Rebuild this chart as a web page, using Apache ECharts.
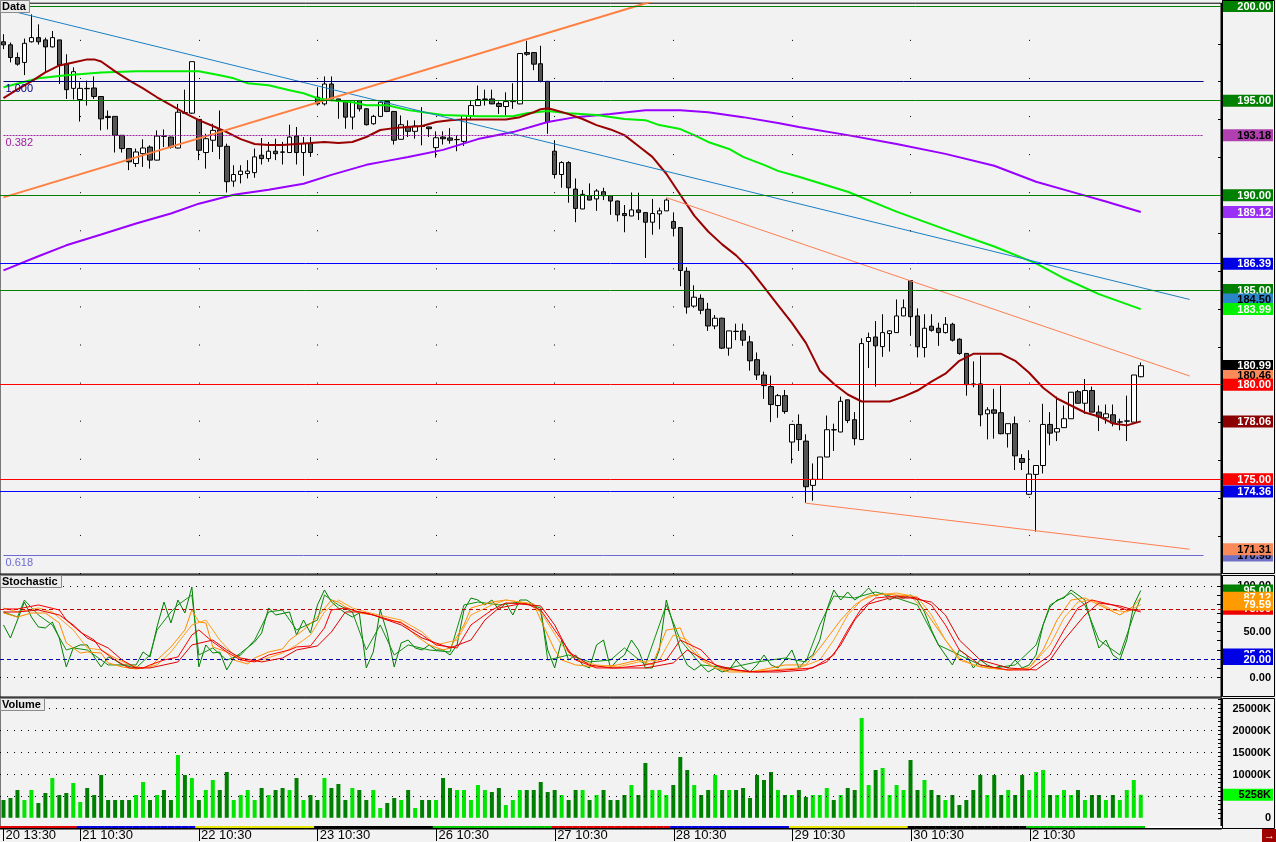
<!DOCTYPE html>
<html><head><meta charset="utf-8">
<script src="https://cdn.jsdelivr.net/npm/echarts@6/dist/echarts.min.js"></script>
<style>html,body{margin:0;padding:0;background:#f2f2f2;}#c{width:1276px;height:842px;}</style>
</head><body><div id="c"></div>
<script>
// ---------- DATA ----------
const dayLabels = ['20 13:30','21 10:30','22 10:30','23 10:30','26 10:30','27 10:30','28 10:30','29 10:30','30 10:30','2 10:30'];
const barsPerDay = [11,17,17,17,17,17,17,17,17,17];
const emptySlots = 11;

const openVals = [198.11,197.95,197.28,197.02,198.11,198.33,198.21,197.84,198.21,196.93,195.65,195.06,195.65,195.67,195.22,194.17,194.17,193.17,192.47,191.68,192.20,192.55,191.86,193.13,193.08,192.50,194.36,194.34,194.01,192.26,192.91,193.46,192.59,190.75,191.10,191.15,191.20,192.12,191.94,192.33,192.29,192.26,193.13,192.26,192.73,195.18,194.83,195.88,195.09,194.92,194.13,195.01,194.57,193.78,194.17,194.95,194.43,192.96,193.64,193.38,193.66,193.61,192.52,193.08,193.03,192.94,192.85,194.18,194.74,195.06,195.09,194.85,194.69,194.95,194.83,197.54,197.54,196.95,196.02,192.33,191.10,191.73,190.33,189.28,189.98,189.81,190.19,189.98,189.70,189.04,188.91,189.23,189.09,188.58,189.02,189.18,188.62,188.30,185.99,184.15,184.56,183.98,183.10,183.51,181.93,182.82,182.84,182.26,181.32,180.51,179.90,178.90,179.42,176.97,177.90,177.02,174.68,175.00,176.18,177.62,177.50,179.20,178.15,177.10,182.28,182.52,182.01,182.70,182.75,183.63,185.50,183.63,181.96,183.09,182.98,182.75,183.19,182.40,181.65,180.04,180.04,178.46,178.67,178.52,177.41,177.94,176.10,174.21,175.26,175.73,177.90,177.50,177.73,178.20,179.63,179.02,179.69,178.55,178.25,178.41,178.02,178.07,178.02,180.42];
const highVals = [198.51,198.07,197.54,198.28,199.56,199.03,198.33,198.68,198.21,197.45,196.76,195.97,196.06,196.28,195.23,194.48,194.18,193.18,192.48,192.47,192.96,192.64,193.43,193.48,193.10,194.83,195.58,197.06,194.02,193.25,193.78,194.48,192.73,191.59,191.59,191.86,192.47,193.03,192.82,192.99,192.82,193.73,193.61,193.08,193.08,195.71,196.28,196.28,195.10,194.97,195.01,195.01,194.60,194.25,195.01,195.01,194.43,194.22,193.96,193.96,194.66,193.62,193.38,193.38,193.55,193.17,194.22,195.04,195.80,195.58,195.58,194.95,195.44,195.92,197.51,198.16,197.56,197.90,196.04,192.91,191.80,191.80,190.89,190.28,190.63,190.33,190.40,189.99,189.72,189.49,190.15,190.14,189.10,189.81,189.35,189.84,189.10,188.30,186.20,185.25,184.77,184.32,183.68,183.54,182.84,183.22,183.22,182.58,181.70,180.69,180.48,179.51,179.72,177.90,178.43,177.38,175.84,176.18,178.37,177.94,179.37,179.21,178.55,182.45,182.75,183.36,183.72,182.87,184.50,184.50,185.50,184.03,183.72,183.72,183.27,183.57,183.27,182.45,181.66,181.23,181.53,178.81,179.78,179.95,177.94,178.32,176.33,176.54,175.73,178.99,178.55,179.37,178.90,179.60,179.72,180.30,179.90,178.90,178.95,178.95,178.20,179.42,180.51,181.17];
const lowVals = [197.72,197.02,196.85,196.35,198.07,197.96,196.49,197.81,195.88,195.09,195.06,193.90,194.74,195.09,193.43,193.48,192.26,192.26,191.33,191.50,191.50,191.41,191.85,192.55,192.47,192.47,194.30,194.30,191.86,191.41,192.29,191.91,190.15,190.45,190.63,190.89,190.93,191.63,191.77,191.86,191.63,192.26,191.63,191.03,192.03,194.74,194.74,194.97,194.04,193.52,193.48,194.43,193.69,193.73,194.13,194.39,192.68,192.95,193.08,192.99,192.64,193.08,191.99,192.68,192.73,192.33,192.61,194.04,194.73,194.74,194.81,194.30,194.22,194.57,194.81,197.37,196.61,195.97,193.25,190.89,190.40,189.61,188.58,189.27,189.74,189.18,189.75,188.97,188.62,188.05,188.90,188.70,186.69,187.92,188.21,189.17,187.83,185.20,183.75,184.06,183.72,182.84,182.93,181.88,181.53,182.35,182.05,180.74,180.25,179.25,178.02,178.25,178.46,175.84,176.50,173.77,173.87,174.99,176.17,176.50,177.49,177.97,176.80,177.09,180.88,179.90,181.47,181.75,182.74,183.62,182.58,181.44,181.44,182.80,182.05,182.70,182.28,181.58,179.42,179.86,177.80,177.11,177.15,177.38,176.68,175.49,175.49,174.17,172.24,175.31,176.80,177.02,177.72,178.19,179.01,178.46,178.54,177.55,177.94,177.80,177.59,177.02,178.01,180.39];
const closeVals = [197.95,197.28,196.93,198.03,198.33,198.11,197.84,198.33,196.88,195.58,196.53,195.65,195.63,195.22,194.04,194.11,193.17,192.47,191.77,192.29,192.50,191.86,193.13,193.12,192.55,194.39,194.34,197.06,192.38,192.99,193.43,192.59,190.72,191.10,191.28,191.28,192.03,191.94,192.33,192.20,192.28,193.08,192.26,192.73,192.26,194.83,195.88,195.09,194.97,194.13,195.01,194.57,193.73,194.17,194.92,194.43,192.91,193.73,193.38,193.66,193.64,193.52,193.04,192.99,192.91,192.95,194.22,194.74,195.06,195.09,194.83,194.69,194.95,195.01,197.49,197.45,196.93,196.02,193.87,191.10,191.73,190.40,189.31,190.05,189.75,190.23,189.98,189.70,188.97,188.93,189.23,189.10,188.58,189.04,189.18,189.75,188.26,186.03,184.10,184.62,183.93,183.10,183.51,181.93,182.84,182.81,182.35,181.26,180.51,179.95,178.95,179.42,178.58,177.90,177.10,174.61,175.00,176.18,177.62,177.61,179.12,178.11,177.15,182.17,182.49,182.05,182.75,182.84,183.63,184.06,183.59,182.00,182.98,182.87,182.75,183.19,182.35,181.65,180.00,180.00,178.41,178.67,178.49,177.41,177.94,176.24,175.89,175.28,175.73,177.90,177.44,177.68,178.20,179.60,179.02,179.69,178.55,178.29,178.46,177.97,178.04,178.09,180.51,181.00];

// volume in thousands (K)
const volumeK = [4064,4520,6347,4064,6347,3379,5662,9086,5205,5662,7945,3607,6803,5205,9771,4064,4064,4064,4064,5205,8173,4064,5205,6347,4064,14337,9771,9086,4064,6347,8630,6347,10456,4064,5205,6347,4064,6803,5205,6347,6803,6347,9086,4064,5205,4064,9086,6803,7716,4064,6803,6347,4064,6347,2237,3379,4520,4064,6347,2237,4064,4064,4064,9086,6803,6347,6347,4064,7488,6347,5890,6803,2922,4064,6347,6347,6347,8173,5890,6347,5205,4064,6347,6347,4064,5205,6347,4064,4064,5205,7488,5205,12510,6347,6347,5205,7488,13880,10913,7488,5205,6347,9771,6347,6347,6347,6803,4520,9771,8630,10456,6347,5205,5205,6347,4749,5205,5205,6803,4064,5205,6803,6347,22784,7488,10913,11369,5205,7488,6347,13196,6347,8630,6347,5205,4064,5205,2922,4064,6347,9771,5205,9771,5205,6347,5205,9771,6347,10456,10913,5205,5205,6347,5205,6347,4064,5205,5205,4064,5205,4064,6347,8630,5258];

// moving averages: [barIndex, value]
const maDarkRed = [[0,195.13],[2,195.60],[4,196.02],[6,196.49],[8,196.86],[10,197.02],[12,197.18],[13,197.18],[14,197.07],[16,196.55],[18,196.07],[20,195.65],[22,195.18],[24,194.76],[26,194.34],[28,193.97],[30,193.66],[32,193.34],[34,192.97],[36,192.71],[38,192.66],[40,192.66],[42,192.71],[44,192.76],[46,192.82],[48,192.76],[50,192.82],[52,193.08],[54,193.45],[56,193.55],[58,193.61],[60,193.66],[62,193.87],[64,193.97],[66,194.00],[68,194.01],[70,194.01],[72,194.01],[74,194.13],[76,194.39],[77,194.55],[78,194.60],[79,194.51],[81,194.29],[83,194.03],[85,193.71],[87,193.48],[89,193.18],[91,192.61],[93,192.03],[95,191.14],[97,190.03],[99,188.93],[101,188.09],[103,187.41],[105,186.83],[107,186.09],[109,185.15],[111,184.20],[113,183.26],[115,182.21],[117,180.74],[119,180.05],[121,179.48],[123,179.11],[125,179.11],[127,179.11],[129,179.37],[131,179.69],[133,180.16],[135,180.58],[137,181.26],[139,181.63],[141,181.63],[143,181.63],[145,181.26],[147,180.63],[149,179.84],[151,179.27],[153,178.90],[155,178.53],[157,178.32],[159,177.95],[161,177.85],[163,178.06]];
const maGreen = [[0,195.71],[5,196.18],[9,196.34],[14,196.49],[19,196.55],[24,196.55],[28,196.55],[31,196.34],[33,196.18],[35,195.92],[38,195.81],[41,195.55],[43,195.39],[45,195.13],[47,195.02],[50,194.92],[52,194.76],[55,194.76],[58,194.50],[63,194.24],[68,194.18],[73,194.18],[75,194.34],[78,194.45],[81,194.34],[85,194.24],[89,194.03],[92,193.97],[94,193.71],[97,193.50],[99,193.18],[101,192.82],[104,192.45],[106,192.03],[109,191.61],[111,191.29],[114,190.98],[121,190.19],[128,189.14],[135,188.20],[142,187.30],[148,186.41],[152,185.62],[157,184.78],[163,183.99]];
const maPurple = [[0,186.04],[5,186.78],[9,187.36],[14,187.93],[19,188.51],[24,189.04],[28,189.56],[33,190.03],[38,190.30],[43,190.61],[47,191.08],[52,191.61],[55,191.82],[58,192.03],[63,192.40],[68,192.97],[73,193.34],[78,193.87],[82,194.13],[87,194.29],[92,194.50],[97,194.50],[101,194.39],[106,194.13],[111,193.82],[114,193.61],[121,193.18],[128,192.71],[135,192.19],[142,191.56],[148,190.72],[154,190.09],[158,189.67],[163,189.12]];

// trend lines: [barIndex, value]
const trendBlue = [[2,199.66],[170,184.50]];
const trendOrangeChannel = [[0,189.89],[93,200.25]];
const trendOrangeUpper = [[95,189.88],[170,180.46]];
const trendOrangeLower = [[115,173.74],[170,171.31]];

// horizontal levels
const greenLevels = [200,195,190,185];
const redLevels = [180,175];
const blueLevels = [186.39,174.36];
const fibLevels = [196.02,193.18,170.98];
const fibTexts = ['1.000','0.382','0.618'];

// right-hand price tags
const mainTagValues = [200,195,193.18,190,189.12,186.39,185,184.50,183.99,180.99,180.46,180,178.06,175,174.36,170.98,171.31];
const mainTicks = [172,174,176,178,180,182,184,186,188,190,192,194,196,198,200];

// stochastic lines: [barIndex, value]
const stochGreen1 = [[0,57.3],[1,43.0],[3,82.4],[4,66.0],[5,55.1],[6,54.0],[7,60.5],[8,43.0],[9,11.3],[10,32.1],[11,35.4],[12,35.4],[13,22.2],[14,11.3],[15,22.2],[16,18.9],[17,13.5],[19,13.5],[20,27.7],[21,22.2],[22,55.1],[23,82.4],[24,59.5],[25,84.6],[26,70.4],[27,98.9],[28,11.3],[29,35.4],[30,26.6],[31,27.7],[32,8.0],[33,21.1],[34,26.6],[36,38.7],[37,48.5],[38,75.9],[39,68.2],[41,71.5],[42,46.3],[43,62.7],[44,48.5],[45,79.2],[46,95.6],[47,82.4],[48,75.9],[49,70.4],[50,66.0],[51,70.4],[52,10.2],[53,27.7],[54,73.7],[55,48.5],[56,11.3],[57,37.6],[58,40.8],[59,32.1],[60,29.9],[61,35.4],[62,29.9],[63,29.9],[64,24.4],[65,35.4],[66,73.7],[67,86.8],[68,84.6],[69,79.2],[70,84.6],[71,73.7],[72,81.4],[73,68.2],[74,84.6],[75,84.6],[76,79.2],[77,71.5],[78,29.9],[79,10.2],[80,40.8],[81,18.9],[82,24.4],[83,13.5],[84,10.2],[85,35.4],[86,40.8],[87,10.2],[88,18.9],[89,24.4],[90,40.8],[91,29.9],[92,10.2],[93,10.2],[94,29.9],[95,84.6],[96,57.3],[97,29.9],[98,13.5],[99,8.0],[100,13.5],[101,5.8],[102,10.2],[103,5.8],[104,8.0],[105,18.9],[106,10.2],[107,5.8],[108,13.5],[109,24.4],[110,13.5],[111,10.2],[112,18.9],[113,29.9],[114,10.2],[115,18.9],[116,24.4],[117,40.8],[118,73.7],[119,95.6],[120,84.6],[121,93.4],[122,84.6],[123,90.1],[124,97.8],[125,89.0],[126,92.3],[127,84.6],[128,89.0],[129,86.8],[130,90.1],[131,84.6],[132,71.5],[133,51.8],[134,35.4],[135,24.4],[136,13.5],[137,29.9],[138,24.4],[139,10.2],[140,18.9],[141,13.5],[142,10.2],[143,12.4],[144,10.2],[145,18.9],[146,10.2],[147,13.5],[148,24.4],[149,57.3],[150,77.0],[151,84.6],[152,86.8],[153,95.6],[154,90.1],[155,84.6],[156,57.3],[157,32.1],[158,40.8],[159,24.4],[160,18.9],[161,40.8],[162,79.2],[163,95.0]];
const stochGreen2 = [[0,71.5],[2,66.0],[3,84.6],[5,68.2],[7,57.3],[9,29.9],[10,32.1],[12,29.9],[15,13.5],[17,13.5],[19,10.2],[21,24.4],[22,51.8],[24,71.5],[25,79.2],[27,90.1],[28,24.4],[30,32.1],[32,18.9],[34,24.4],[36,40.8],[38,71.5],[40,73.7],[42,51.8],[45,62.7],[46,90.1],[48,79.2],[50,71.5],[52,29.9],[54,57.3],[56,24.4],[58,35.4],[61,29.9],[64,27.7],[66,79.2],[68,82.4],[71,79.2],[74,82.4],[77,75.9],[78,18.9],[81,24.4],[84,16.8],[87,18.9],[89,32.1],[92,13.5],[95,79.2],[97,40.8],[100,13.5],[104,10.2],[108,16.8],[112,21.1],[115,16.8],[117,57.3],[119,89.0],[122,86.8],[125,93.4],[128,86.8],[131,79.2],[134,35.4],[137,24.4],[140,13.5],[142,10.2],[145,13.5],[148,35.4],[150,79.2],[153,92.3],[155,79.2],[157,40.8],[160,24.4],[162,68.2],[163,86.8]];
const stochOrange1 = [[0,70.4],[2,66.0],[4,70.4],[6,70.4],[8,59.5],[9,37.6],[11,26.6],[12,27.7],[14,26.6],[15,15.7],[17,11.3],[19,9.1],[21,11.3],[22,18.9],[24,33.2],[26,51.8],[27,73.7],[28,60.5],[29,59.5],[30,33.2],[32,27.7],[33,18.9],[35,14.6],[36,21.1],[38,27.7],[40,31.0],[41,40.8],[43,51.8],[45,66.0],[47,84.6],[48,82.4],[49,77.0],[51,70.4],[53,68.2],[55,62.7],[57,60.5],[59,46.3],[61,35.4],[63,29.9],[64,32.1],[66,57.3],[67,75.9],[70,82.4],[72,84.6],[74,82.4],[76,80.3],[77,62.7],[79,29.9],[80,18.9],[82,13.5],[85,11.3],[88,13.5],[91,18.9],[93,13.5],[95,51.8],[97,54.0],[98,35.4],[100,18.9],[102,10.2],[104,5.8],[107,5.8],[110,10.2],[112,13.5],[115,13.5],[117,32.1],[120,62.7],[122,79.2],[124,89.0],[126,91.2],[128,90.1],[130,89.0],[132,73.7],[135,40.8],[137,21.1],[139,13.5],[141,10.2],[144,8.0],[147,10.2],[149,29.9],[151,62.7],[153,84.6],[155,86.8],[157,79.2],[160,68.2],[162,78.1],[163,87.12]];
const stochOrange2 = [[0,75.9],[2,71.5],[5,75.9],[7,71.5],[10,51.8],[12,32.1],[14,29.9],[16,21.1],[18,13.5],[20,10.2],[22,13.5],[24,27.7],[27,57.3],[29,62.7],[31,40.8],[33,24.4],[35,16.8],[37,18.9],[40,26.6],[42,35.4],[44,46.3],[46,71.5],[48,84.6],[50,75.9],[52,71.5],[55,66.0],[57,62.7],[60,49.6],[62,35.4],[65,40.8],[67,68.2],[70,79.2],[72,84.6],[75,81.4],[77,71.5],[80,35.4],[82,18.9],[85,13.5],[88,11.3],[91,16.8],[94,18.9],[96,46.3],[98,40.8],[100,21.1],[102,10.2],[106,5.8],[110,8.0],[114,10.2],[117,18.9],[119,40.8],[121,68.2],[123,84.6],[125,90.1],[128,92.3],[131,87.9],[133,68.2],[135,40.8],[137,18.9],[140,11.3],[144,8.0],[147,10.2],[150,35.4],[152,64.9],[154,82.4],[156,84.6],[159,73.7],[161,71.5],[163,79.59]];
const stochRed1 = [[0,74.8],[2,74.8],[5,79.2],[8,73.7],[9,62.7],[11,49.6],[13,40.8],[14,29.9],[16,18.9],[18,10.2],[20,10.2],[21,13.5],[23,18.9],[25,22.2],[27,46.3],[28,51.8],[30,38.7],[32,27.7],[34,18.9],[36,16.8],[38,24.4],[41,29.9],[42,33.2],[44,34.3],[46,54.0],[47,73.7],[49,75.9],[51,71.5],[52,70.4],[54,66.0],[57,59.5],[60,46.3],[62,35.4],[65,32.1],[67,57.3],[70,73.7],[72,81.4],[75,80.3],[77,73.7],[80,40.8],[82,18.9],[85,10.2],[88,10.2],[92,13.5],[95,18.9],[97,40.8],[100,29.9],[102,13.5],[105,8.0],[108,5.8],[112,8.0],[116,10.2],[119,24.4],[121,51.8],[123,75.9],[125,86.8],[128,89.0],[131,86.8],[133,79.2],[135,57.3],[137,29.9],[140,13.5],[144,8.0],[147,8.0],[150,24.4],[152,51.8],[154,75.9],[156,84.6],[159,79.2],[161,73.7],[163,73.7]];
const stochRed2 = [[0,71.5],[2,71.5],[5,73.7],[8,68.2],[10,57.3],[12,43.0],[15,32.1],[17,18.9],[19,10.2],[21,10.2],[23,13.5],[25,16.8],[27,35.4],[30,40.8],[32,29.9],[34,21.1],[37,16.8],[40,21.1],[42,29.9],[45,34.3],[47,49.6],[49,71.5],[51,71.5],[53,68.2],[55,62.7],[57,57.3],[60,43.0],[64,32.1],[67,40.8],[69,62.7],[71,75.9],[74,80.3],[77,78.1],[79,57.3],[81,27.7],[84,13.5],[87,10.2],[92,10.2],[96,15.7],[98,29.9],[100,21.1],[103,10.2],[107,5.8],[111,5.8],[115,8.0],[118,16.8],[120,35.4],[122,62.7],[124,80.3],[127,86.8],[130,86.8],[133,82.4],[135,68.2],[137,40.8],[140,18.9],[144,10.2],[148,8.0],[150,18.9],[152,40.8],[155,68.2],[157,81.4],[160,78.1],[163,71.5]];
const stochLevels = {upper:75, lower:20, top:100, bottom:0};
const stochTagValues = [100,95,87.12,75,79.59,50,25,20,0];
const stochTicks = [0,10,20,30,40,50,60,70,80,90,100];

const volumeTagValues = [0,10000,15000,20000,25000,5258];
const volumeGridLevels = [5000,10000,15000,20000,25000];
const volumeTicks = [0,1000,2000,3000,4000,5000,6000,7000,8000,9000,10000,11000,12000,13000,14000,15000,16000,17000,18000,19000,20000,21000,22000,23000,24000,25000,26000,27000];

// ---------- BUILD ----------
const FONT = 'Liberation Sans';
const categories = [];
const dayStart = new Set();
const dayOfBar = [];
dayLabels.forEach((d, k) => {
  for (let j = 0; j < barsPerDay[k]; j++) {
    if (j === 0) dayStart.add(categories.length);
    categories.push(j === 0 ? d : d + '#' + j);
    dayOfBar.push(k);
  }
});
for (let j = 0; j < emptySlots; j++) { categories.push('pad' + j); dayOfBar.push(-1); }
const dayLabelSet = new Set(dayLabels);
const dayColors = ['#e00000','#0000e0','#e6e600','#000000','#00c800','#e00000','#0000e0','#e6e600','#000000','#00c800'];

const candleData = openVals.map((o, i) => [o, closeVals[i], lowVals[i], highVals[i]]);
const volData = volumeK.map((v, i) => ({value: v, itemStyle: {color: closeVals[i] >= openVals[i] ? '#00e600' : '#008000'}}));
const stripData = dayOfBar.map(d => ({value: 1, itemStyle: {color: d < 0 ? '#ffffff' : dayColors[d]}}));

function tagRich(styles) {
  const rich = {};
  styles.forEach((s, k) => {
    rich['t' + k] = {
      backgroundColor: s[0] || 'transparent', color: s[1], width: 48, align: 'right',
      padding: [1, 2, 0, 1], fontWeight: 'bold', fontSize: 11, lineHeight: 11, fontFamily: FONT
    };
  });
  return rich;
}
const mainTagStyles = [['#008000','#fff'],['#008000','#fff'],['#b040b0','#000'],['#008000','#fff'],['#9a30f8','#fff'],['#0000e6','#fff'],['#008000','#fff'],['#2a86c8','#000'],['#00f000','#fff'],['#000000','#fff'],['#fa8a5a','#000'],['#ff0000','#fff'],['#8b0000','#fff'],['#ff0000','#fff'],['#0000e6','#fff'],['#7070c8','#000'],['#fa8a5a','#000']];
const stochTagStyles = [[null,'#000'],['#008000','#fff'],['#ff9a00','#fff'],['#ee0000','#fff'],['#ff9a00','#fff'],[null,'#000'],['#0000e6','#fff'],['#0000e6','#fff'],[null,'#000']];
const volTagStyles = [[null,'#000'],[null,'#000'],[null,'#000'],[null,'#000'],[null,'#000'],['#00ff00','#000']];

function tagFormatter(values, fmt) {
  return function (v) {
    let k = values.findIndex(x => Math.abs(x - v) < 1e-6);
    if (k < 0) return '';
    return '{t' + k + '|' + fmt(v) + '}';
  };
}
// first/last entries are hidden placeholders so that ECharts' min/max-label overlap rule never hides a real tag
const withGuards = (vals, lo) => [lo].concat(vals, [lo]);

const hLine = (v, color, type) => ({yAxis: v, lineStyle: {color: color, width: 1, type: type || 'solid'}});
const fibColors = ['#000080','#a020a0','#6a6ad0'];
const fibTypes = ['solid',[2,1],'solid'];
const levelLines = []
  .concat(greenLevels.map(v => hLine(v, '#008000')))
  .concat(redLevels.map(v => hLine(v, '#ff0000')))
  .concat(blueLevels.map(v => hLine(v, '#0000ff')))
  .concat(fibLevels.map((v, k) => [
    {coord: [0, v], lineStyle: {color: fibColors[k], width: 1, type: fibTypes[k]},
     label: {show: true, position: 'insideStartBottom', formatter: fibTexts[k], color: fibColors[k], fontSize: 11, fontFamily: FONT, distance: 2}},
    {coord: [172, v]}
  ]));

const lineS = (name, data, color, width, xi, yi, z) => ({
  name, type: 'line', data, xAxisIndex: xi, yAxisIndex: yi, showSymbol: false, symbol: 'none',
  connectNulls: true, silent: true, z: z || 4, lineStyle: {color, width}, animation: false
});

const catAxis = (gi) => ({gridIndex: gi, type: 'category', data: categories, boundaryGap: true, show: false});

const option = {
  animation: false,
  backgroundColor: '#f2f2f2',
  textStyle: {fontFamily: FONT},
  title: [
    {text: 'Data', left: 0, top: 0, padding: [1,4,1,2], backgroundColor: '#ececec', borderColor: '#8a8a8a', borderWidth: 1,
     textStyle: {fontSize: 11, fontWeight: 'bold', fontFamily: FONT, color: '#000', lineHeight: 11}},
    {text: 'Stochastic', left: 0, top: 575, padding: [1,4,1,2], backgroundColor: '#ececec', borderColor: '#8a8a8a', borderWidth: 1,
     textStyle: {fontSize: 11, fontWeight: 'bold', fontFamily: FONT, color: '#000', lineHeight: 11}},
    {text: 'Volume', left: 0, top: 698, padding: [1,4,1,2], backgroundColor: '#ececec', borderColor: '#8a8a8a', borderWidth: 1,
     textStyle: {fontSize: 11, fontWeight: 'bold', fontFamily: FONT, color: '#000', lineHeight: 11}}
  ],
  grid: [
    {left: 0, top: 0, width: 1222, height: 574, show: true, backgroundColor: '#f2f2f2', borderColor: '#000', borderWidth: 1},
    {left: 0, top: 575, width: 1222, height: 122, show: true, backgroundColor: '#f2f2f2', borderColor: '#000', borderWidth: 1},
    {left: 0, top: 698, width: 1222, height: 131, show: true, backgroundColor: '#f2f2f2', borderColor: '#000', borderWidth: 1},
    {left: 0, top: 826, width: 1222, height: 3, show: false}
  ],
  xAxis: [
    catAxis(0), catAxis(1), catAxis(2),
    {gridIndex: 3, type: 'category', data: categories, boundaryGap: true,
     axisLine: {show: true, lineStyle: {color: '#000', width: 1}},
     axisTick: {show: true, interval: (i) => dayStart.has(i), alignWithLabel: true, length: 13, lineStyle: {color: '#000', width: 1}},
     axisLabel: {show: true, interval: (i) => dayStart.has(i), formatter: v => dayLabelSet.has(v) ? v : '',
                 align: 'left', margin: 1, padding: [0,0,0,2], fontSize: 13, fontFamily: FONT, color: '#000'},
     splitLine: {show: false}}
  ],
  yAxis: [
    {gridIndex: 0, type: 'value', position: 'right', min: 170, max: 200.147, scale: true,
     axisLine: {show: true, lineStyle: {color: '#000'}},
     axisTick: {show: true, inside: true, length: 3, customValues: mainTicks, lineStyle: {color: '#000'}},
     axisLabel: {show: true, customValues: withGuards(mainTagValues, 170), margin: 1, showMinLabel: false, showMaxLabel: false, hideOverlap: false,
                 formatter: tagFormatter(mainTagValues, v => v.toFixed(2)), rich: tagRich(mainTagStyles)},
     splitLine: {show: false}},
    {gridIndex: 1, type: 'value', position: 'right', min: -21.6, max: 112,
     axisLine: {show: true, lineStyle: {color: '#000'}},
     axisTick: {show: true, inside: true, length: 4, customValues: stochTicks, lineStyle: {color: '#000'}},
     axisLabel: {show: true, customValues: withGuards(stochTagValues, -21.6), margin: 1, showMinLabel: false, showMaxLabel: false, hideOverlap: false,
                 formatter: tagFormatter(stochTagValues, v => v.toFixed(2)), rich: tagRich(stochTagStyles)},
     splitLine: {show: false}},
    {gridIndex: 2, type: 'value', position: 'right', min: -2560, max: 27350,
     axisLine: {show: true, lineStyle: {color: '#000'}},
     axisTick: {show: true, inside: true, length: 3, customValues: volumeTicks, lineStyle: {color: '#000'}},
     axisLabel: {show: true, customValues: withGuards(volumeTagValues, -2560), margin: 1, showMinLabel: false, showMaxLabel: false, hideOverlap: false,
                 formatter: tagFormatter(volumeTagValues, v => v === 0 ? '0' : Math.round(v) + 'K'), rich: tagRich(volTagStyles)},
     splitLine: {show: false}},
    {gridIndex: 3, type: 'value', min: 0, max: 1, show: false}
  ],
  series: [
    {name: 'levels', type: 'line', data: [], xAxisIndex: 0, yAxisIndex: 0, z: 1, silent: true,
     markLine: {silent: true, symbol: ['none','none'], label: {show: false}, emphasis: {disabled: true}, animation: false, data: levelLines}},
    {name: 'Data', type: 'candlestick', data: candleData, xAxisIndex: 0, yAxisIndex: 0, barWidth: 5, z: 3, silent: true,
     itemStyle: {color: '#ffffff', color0: '#555555', borderColor: '#000000', borderColor0: '#000000', borderWidth: 1},
     markLine: {silent: true, symbol: ['none','none'], label: {show: false}, emphasis: {disabled: true}, animation: false,
                lineStyle: {color: '#000', width: 1, type: [1, 37.08]},
                data: [...dayStart].filter(i => i > 0).map(i => ({xAxis: i}))}},
    lineS('MA purple', maPurple, '#9900ff', 2, 0, 0),
    lineS('MA green', maGreen, '#00ee00', 2, 0, 0),
    lineS('MA dark red', maDarkRed, '#990000', 2, 0, 0),
    lineS('trend blue', trendBlue, '#1a80c4', 1, 0, 0),
    lineS('channel orange', trendOrangeChannel, '#ff7f40', 2, 0, 0),
    lineS('trend orange upper', trendOrangeUpper, '#ff7f50', 1, 0, 0),
    lineS('trend orange lower', trendOrangeLower, '#ff7f50', 1, 0, 0),
    Object.assign(lineS('%K fast', stochGreen1, '#008000', 1, 1, 1, 3), {
      markLine: {silent: true, symbol: ['none','none'], label: {show: false}, emphasis: {disabled: true}, animation: false,
        data: [hLine(stochLevels.top, '#000', [1,6]), hLine(stochLevels.bottom, '#000', [1,6]),
               hLine(stochLevels.upper, '#c00000', [4,3]), hLine(stochLevels.lower, '#0000b0', [4,3])]}}),
    lineS('%K slow', stochGreen2, '#109010', 1, 1, 1, 3),
    lineS('%D 1', stochOrange1, '#ff8c00', 1, 1, 1, 4),
    lineS('%D 2', stochOrange2, '#ffa020', 1, 1, 1, 4),
    lineS('Slow 1', stochRed1, '#ff0000', 1, 1, 1, 5),
    lineS('Slow 2', stochRed2, '#e00000', 1, 1, 1, 5),
    {name: 'Volume', type: 'bar', data: volData, xAxisIndex: 2, yAxisIndex: 2, barWidth: 4, silent: true,
     markLine: {silent: true, symbol: ['none','none'], label: {show: false}, emphasis: {disabled: true}, animation: false,
                data: volumeGridLevels.map(v => hLine(v, '#000', [1,6]))}},
    {name: 'days', type: 'bar', data: stripData, xAxisIndex: 3, yAxisIndex: 3, barWidth: 7.2, silent: true}
  ],
  graphic: [
    {type: 'rect', shape: {x: 1222.5, y: 0.5, width: 52, height: 573}, style: {fill: 'none', stroke: '#000', lineWidth: 1}, silent: true, z: 100},
    {type: 'rect', shape: {x: 1222.5, y: 575.5, width: 52, height: 121}, style: {fill: 'none', stroke: '#000', lineWidth: 1}, silent: true, z: 100},
    {type: 'rect', shape: {x: 1222.5, y: 698.5, width: 52, height: 130}, style: {fill: 'none', stroke: '#000', lineWidth: 1}, silent: true, z: 100},
    {type: 'rect', shape: {x: 1262, y: 829, width: 14, height: 13}, style: {fill: '#a00000'}, silent: true, z: 100},
    {type: 'text', x: 1264, y: 830, style: {text: '→', fill: '#fff', font: 'bold 11px ' + FONT}, silent: true, z: 101}
  ]
};

const chart = echarts.init(document.getElementById('c'), null, {renderer: 'canvas'});
chart.setOption(option);
</script>
</body></html>
